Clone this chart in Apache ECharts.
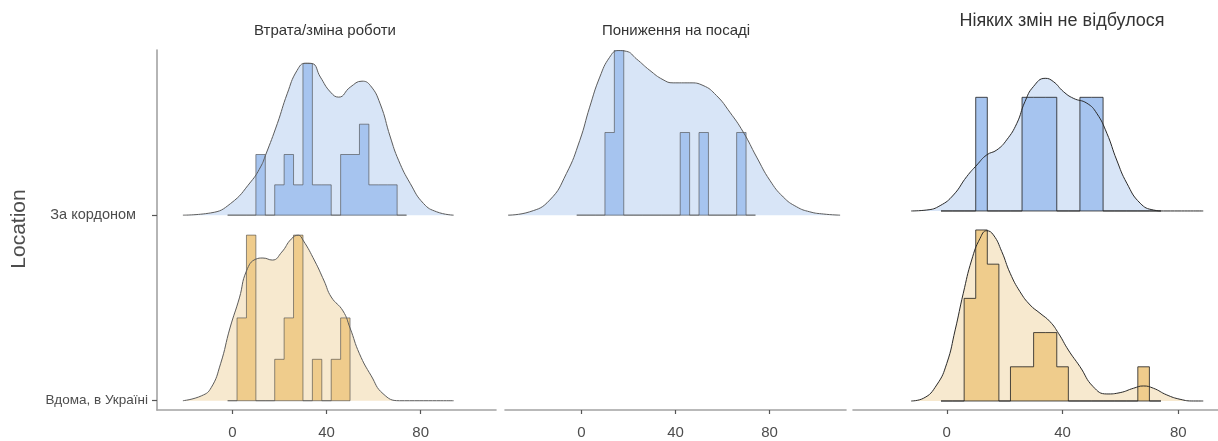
<!DOCTYPE html>
<html>
<head>
<meta charset="utf-8">
<script src="https://cdn.jsdelivr.net/npm/echarts@6/dist/echarts.min.js"></script>
<style>
  html, body { margin: 0; padding: 0; background: #ffffff; }
  #chart { width: 1218px; height: 441px; }
</style>
</head>
<body>
<div id="chart"></div>
<script>
// Facets and rows
const panelTitles = ['Втрата/зміна роботи', 'Пониження на посаді', 'Ніяких змін не відбулося'];
const locations = ['Вдома, в Україні', 'За кордоном'];   // row 0, row 1
const xTicks = [0, 40, 80];

// Histogram bins: width 4, first bin starts at -2
const binStart = -2;
const binWidth = 4;

// Counts per bin
const histLossAbroad   = [0, 0, 0, 2, 0, 1, 2, 1, 5, 1, 1, 0, 2, 2, 3, 1, 1, 1, 0];
const histLossHome     = [0, 2, 4, 0, 0, 1, 2, 4, 0, 1, 0, 1, 2];
const histDemoteAbroad = [0, 0, 0, 1, 2, 0, 0, 0, 0, 0, 0, 1, 0, 1, 0, 0, 0, 1, 0];
const histNoneAbroad   = [0, 0, 0, 1, 0, 0, 0, 1, 1, 1, 0, 0, 1, 1, 0, 0, 0, 0, 0];
const histNoneHome     = [0, 0, 3, 5, 4, 0, 1, 1, 2, 2, 1, 0, 0, 0, 0, 0, 0, 1, 0];

// Density ridges: [x, height above the row baseline]
const densLossAbroad = [
  [-21, 0], [-9.2, 0.012], [-0.7, 0.063], [7.8, 0.179], [12, 0.260], [14.1, 0.323],
  [19.1, 0.493], [23.3, 0.654], [27.5, 0.780], [31.1, 0.819], [33.9, 0.817],
  [37.4, 0.744], [41.7, 0.663], [45.2, 0.636], [50.1, 0.690], [55.1, 0.722],
  [58.6, 0.699], [62.8, 0.600], [67.1, 0.421], [70.6, 0.296], [75.6, 0.170],
  [81.2, 0.063], [86.8, 0.018], [94, 0]
];
const densLossHome = [
  [-21, 0], [-13, 0.027], [-9, 0.070], [-5, 0.199], [-1, 0.392], [3, 0.554],
  [6, 0.699], [10, 0.763], [13, 0.769], [17, 0.758], [21, 0.801], [25, 0.871],
  [28, 0.892], [30, 0.866], [35, 0.753], [39, 0.645], [42, 0.559], [47, 0.484],
  [50, 0.392], [54, 0.253], [59, 0.134], [64, 0.038], [71, 0], [94, 0]
];
const densDemoteAbroad = [
  [-31.2, 0], [-22, 0.018], [-13.5, 0.081], [-6.4, 0.224], [-0.7, 0.403], [3.5, 0.582],
  [7.8, 0.744], [12, 0.851], [15.6, 0.887], [19.1, 0.883], [23.4, 0.842], [29.1, 0.780],
  [34.7, 0.730], [39, 0.713], [46.1, 0.713], [51.7, 0.699], [57.4, 0.645], [63.1, 0.555],
  [68.8, 0.448], [74.5, 0.313], [80.1, 0.188], [85.8, 0.098], [91.5, 0.045],
  [97.1, 0.018], [103, 0.006], [110, 0]
];
const densNoneAbroad = [
  [-12.3, 0], [-6.9, 0.005], [-2.3, 0.028], [2.3, 0.084], [6.9, 0.181], [10.4, 0.242],
  [13.8, 0.295], [17.3, 0.321], [20.7, 0.374], [24.2, 0.461], [27, 0.575], [29.9, 0.654],
  [34, 0.698], [36.8, 0.681], [40.3, 0.628], [43.7, 0.593], [48.4, 0.567], [51.8, 0.514],
  [55.3, 0.409], [58.7, 0.268], [62.2, 0.146], [66.8, 0.041], [71.4, 0.005], [74.8, 0],
  [88.6, 0]
];
const densNoneHome = [
  [-12.3, 0], [-8.1, 0.014], [-3.5, 0.084], [0, 0.198], [2.9, 0.374], [5.7, 0.567],
  [8.6, 0.742], [11.5, 0.856], [13.8, 0.896], [16.1, 0.874], [19, 0.786], [21.9, 0.672],
  [25.3, 0.575], [28.8, 0.505], [32.2, 0.462], [35.7, 0.417], [38.6, 0.356], [42, 0.268],
  [46, 0.181], [50.6, 0.075], [55.3, 0.037], [59.9, 0.044], [64.5, 0.067], [67.9, 0.079],
  [71.4, 0.067], [76, 0.032], [80.6, 0.009], [85.2, 0], [88.6, 0]
];

// ---- styling / layout ----
const BLUE = { area: '#d8e5f7', bar: '#a6c4ef' };
const GOLD = { area: '#f7e9cf', bar: '#efcc8c' };
const FONT = "'Liberation Sans', Arial, sans-serif";
const SMOOTH = 0.5;

// scale = height of one histogram count, in row units
const panels = [
  {
    grid: { left: 157, width: 339, top: 50, height: 360 },
    x: [-32, 112], y: [-0.05, 1.89],
    line: '#5c5c5c', edge: 'rgba(70,70,70,0.6)',
    ridges: [
      { row: 1, hist: histLossAbroad, dens: densLossAbroad, scale: 0.1634, col: BLUE },
      { row: 0, hist: histLossHome,   dens: densLossHome,   scale: 0.2231, col: GOLD }
    ]
  },
  {
    grid: { left: 505, width: 341, top: 50, height: 360 },
    x: [-32.5, 112.5], y: [-0.05, 1.89],
    line: '#5c5c5c', edge: 'rgba(70,70,70,0.6)',
    ridges: [
      { row: 1, hist: histDemoteAbroad, dens: densDemoteAbroad, scale: 0.4454, col: BLUE }
    ]
  },
  {
    grid: { left: 853, width: 365, top: 50, height: 360 },
    x: [-32.4, 93.7], y: [-0.0474, 1.847],
    line: '#2a2a2a', edge: 'rgba(30,30,30,0.8)',
    ridges: [
      { row: 1, hist: histNoneAbroad, dens: densNoneAbroad, scale: 0.598, col: BLUE },
      { row: 0, hist: histNoneHome,   dens: densNoneHome,   scale: 0.18,  col: GOLD }
    ]
  }
];

function histRenderer(counts, row, scale, fill, stroke) {
  return function (params, api) {
    const pts = [api.coord([binStart, row])];
    counts.forEach(function (c, i) {
      const x0 = binStart + i * binWidth;
      const top = row + c * scale;
      pts.push(api.coord([x0, top]));
      pts.push(api.coord([x0 + binWidth, top]));
    });
    pts.push(api.coord([binStart + counts.length * binWidth, row]));
    return {
      type: 'polygon',
      shape: { points: pts },
      style: { fill: fill, stroke: stroke, lineWidth: 1 }
    };
  };
}

const grids = [], xAxes = [], yAxes = [], series = [];

panels.forEach(function (p, i) {
  grids.push(Object.assign({ containLabel: false }, p.grid));

  xAxes.push({
    type: 'value', gridIndex: i, min: p.x[0], max: p.x[1],
    splitLine: { show: false },
    axisLine: { show: true, onZero: false, lineStyle: { color: '#a3a3a3', width: 1.6 } },
    axisTick: { show: true, customValues: xTicks, length: 4, lineStyle: { color: '#555', width: 1.2 } },
    axisLabel: { customValues: xTicks, color: '#4d4d4d', fontSize: 15, fontFamily: FONT, margin: 15 }
  });

  if (i === 0) {
    yAxes.push({
      type: 'value', gridIndex: i, min: p.y[0], max: p.y[1],
      splitLine: { show: false },
      axisLine: { show: true, onZero: false, lineStyle: { color: '#a3a3a3', width: 1.6 } },
      axisTick: { show: true, customValues: [0, 1], length: 5, lineStyle: { color: '#555', width: 1.2 } },
      axisLabel: {
        customValues: [0, 1], margin: 9,
        formatter: function (v) {
          return v > 0.5 ? '{a|' + locations[1] + '}' : '{b|' + locations[0] + '}';
        },
        rich: {
          a: { color: '#4d4d4d', fontSize: 14.5, fontFamily: FONT, padding: [0, 12, 0, 0] },
          b: { color: '#4d4d4d', fontSize: 13.5, fontFamily: FONT }
        }
      }
    });
  } else {
    yAxes.push({ type: 'value', gridIndex: i, min: p.y[0], max: p.y[1], show: false });
  }

  p.ridges.forEach(function (r) {
    const pts = r.dens.map(function (d) { return [d[0], r.row + d[1]]; });
    // density fill
    series.push({
      type: 'line', xAxisIndex: i, yAxisIndex: i, data: pts,
      smooth: SMOOTH, symbol: 'none', silent: true,
      lineStyle: { width: 0, opacity: 0 },
      areaStyle: { color: r.col.area, opacity: 1, origin: r.row },
      z: 1
    });
    // binned counts as a stepped outline
    series.push({
      type: 'custom', xAxisIndex: i, yAxisIndex: i,
      data: [[binStart, r.row]], silent: true, clip: true,
      renderItem: histRenderer(r.hist, r.row, r.scale, r.col.bar, p.edge),
      z: 2
    });
    // density outline
    series.push({
      type: 'line', xAxisIndex: i, yAxisIndex: i, data: pts,
      smooth: SMOOTH, symbol: 'none', silent: true,
      lineStyle: { width: 1, color: p.line },
      z: 3
    });
  });
});

const titleCentres = [[325, 31, 15], [676, 31, 15], [1062, 21, 18]];

const graphics = panelTitles.map(function (t, i) {
  return {
    type: 'text', x: titleCentres[i][0], y: titleCentres[i][1],
    style: {
      text: t, fill: '#333333', font: titleCentres[i][2] + 'px ' + FONT,
      textAlign: 'center', textVerticalAlign: 'middle'
    }
  };
});
graphics.push({
  type: 'text', x: 19, y: 229, rotation: Math.PI / 2,
  style: {
    text: 'Location', fill: '#4d4d4d', font: '21px ' + FONT,
    textAlign: 'center', textVerticalAlign: 'middle'
  }
});

const chart = echarts.init(document.getElementById('chart'), null, { renderer: 'canvas' });
chart.setOption({
  backgroundColor: '#ffffff',
  animation: false,
  grid: grids,
  xAxis: xAxes,
  yAxis: yAxes,
  series: series,
  graphic: graphics
});
</script>
</body>
</html>
